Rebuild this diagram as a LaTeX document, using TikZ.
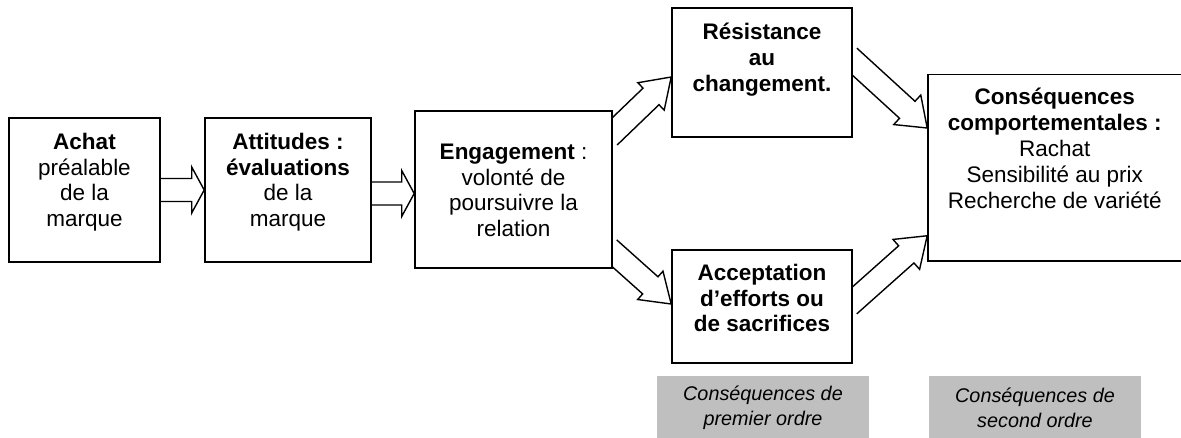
\documentclass[tikz,border=0pt]{standalone}
\usepackage{fontspec}
\setmainfont{Liberation Sans}
\usetikzlibrary{calc,positioning}
\pgfdeclarelayer{back}
\pgfsetlayers{back,main}

\tikzset{
  box/.style={draw, line width=1.6pt, fill=white, inner sep=0pt},
  txt/.style={align=center, inner sep=0pt, font=\fontsize{22.5}{25.8}\selectfont},
  graybox/.style={fill=black!25, inner sep=0pt, align=center,
    minimum width=212pt, minimum height=64pt,
    font=\fontsize{19.8}{25}\selectfont\itshape},
  blockline/.style={draw, line width=1.4pt, fill=white, line join=miter},
}

% hollow block arrow: start, tip, head half width, head length
\newcommand{\blockarrow}[4]{%
  \coordinate (ba-s) at (#1);
  \coordinate (ba-e) at (#2);
  \coordinate (ba-a) at ($(ba-s)!-5pt!(ba-e)$);
  \coordinate (ba-h) at ($(ba-e)!#4pt!(ba-s)$);
  \path[blockline] ($(ba-a)!11.5pt!90:(ba-e)$) -- ($(ba-h)!11.5pt!90:(ba-e)$)
    -- ($(ba-h)!#3pt!90:(ba-e)$) -- (ba-e) -- ($(ba-h)!#3pt!-90:(ba-e)$)
    -- ($(ba-h)!11.5pt!-90:(ba-e)$) -- ($(ba-a)!11.5pt!-90:(ba-e)$);
}

\begin{document}
\begin{tikzpicture}[x=1pt, y=-1pt]
  \useasboundingbox (0,0) rectangle (1181,437);

  % boxes
  \node[box, minimum width=151pt, minimum height=144pt] (achat) at (84.5,190) {};
  \node[box, minimum width=166pt, minimum height=144pt] (attitudes) at (288,190) {};
  \node[box, minimum width=197pt, minimum height=157pt] (engagement) at (513.5,189.5) {};
  \node[box, minimum width=180pt, minimum height=129pt] (resist) at (762,72.5) {};
  \node[box, minimum width=180pt, minimum height=113pt] (accept) at (762,306.5) {};
  \node[box, minimum width=253.5pt, minimum height=186.5pt] (conseq) at (1054.75,167.75) {};

  % texts
  \node[txt, below=15.5pt of achat.north] (achat-t)
    {\textbf{Achat}\\préalable\\de la\\marque};
  \node[txt, below=15.5pt of attitudes.north] (attitudes-t)
    {\textbf{Attitudes :}\\\textbf{évaluations}\\de la\\marque};
  \node[txt, below=33.5pt of engagement.north] (engagement-t)
    {\textbf{Engagement} :\\volonté de\\poursuivre la\\relation};
  \node[txt, below=15.5pt of resist.north] (resist-t)
    {\textbf{Résistance}\\\textbf{au}\\\textbf{changement.}};
  \node[txt, below=14.5pt of accept.north] (accept-t)
    {\textbf{Acceptation}\\\textbf{d’efforts ou}\\\textbf{de sacrifices}};
  \node[txt, below=14.5pt of conseq.north] (conseq-t)
    {\textbf{Conséquences}\\\textbf{comportementales :}\\Rachat\\Sensibilité au prix\\Recherche de variété};

  % order labels
  \node[graybox] (ordre1) at (763,408) {Conséquences de\\premier ordre};
  \node[graybox] (ordre2) at (1035,408) {Conséquences de\\second ordre};

  % block arrows
  \begin{pgfonlayer}{back}
    \blockarrow{achat.east}{attitudes.west}{23}{12.5}
    \blockarrow{$(attitudes.east)+(0,3.5)$}{$(engagement.west)+(0,4)$}{23}{12.5}
    \blockarrow{$(engagement.north east)+(0,23)$}{$(resist.west)+(0,4.5)$}{19}{28}
    \blockarrow{$(engagement.south east)+(0,-17)$}{$(accept.west)+(0,-2.5)$}{19}{28}
    \blockarrow{$(resist.east)+(0,-12.5)$}{$(conseq.west)+(0,-39.75)$}{20}{27}
    \blockarrow{$(accept.east)+(0,-4.5)$}{$(conseq.west)+(0,68)$}{20}{28}
  \end{pgfonlayer}
\end{tikzpicture}
\end{document}
